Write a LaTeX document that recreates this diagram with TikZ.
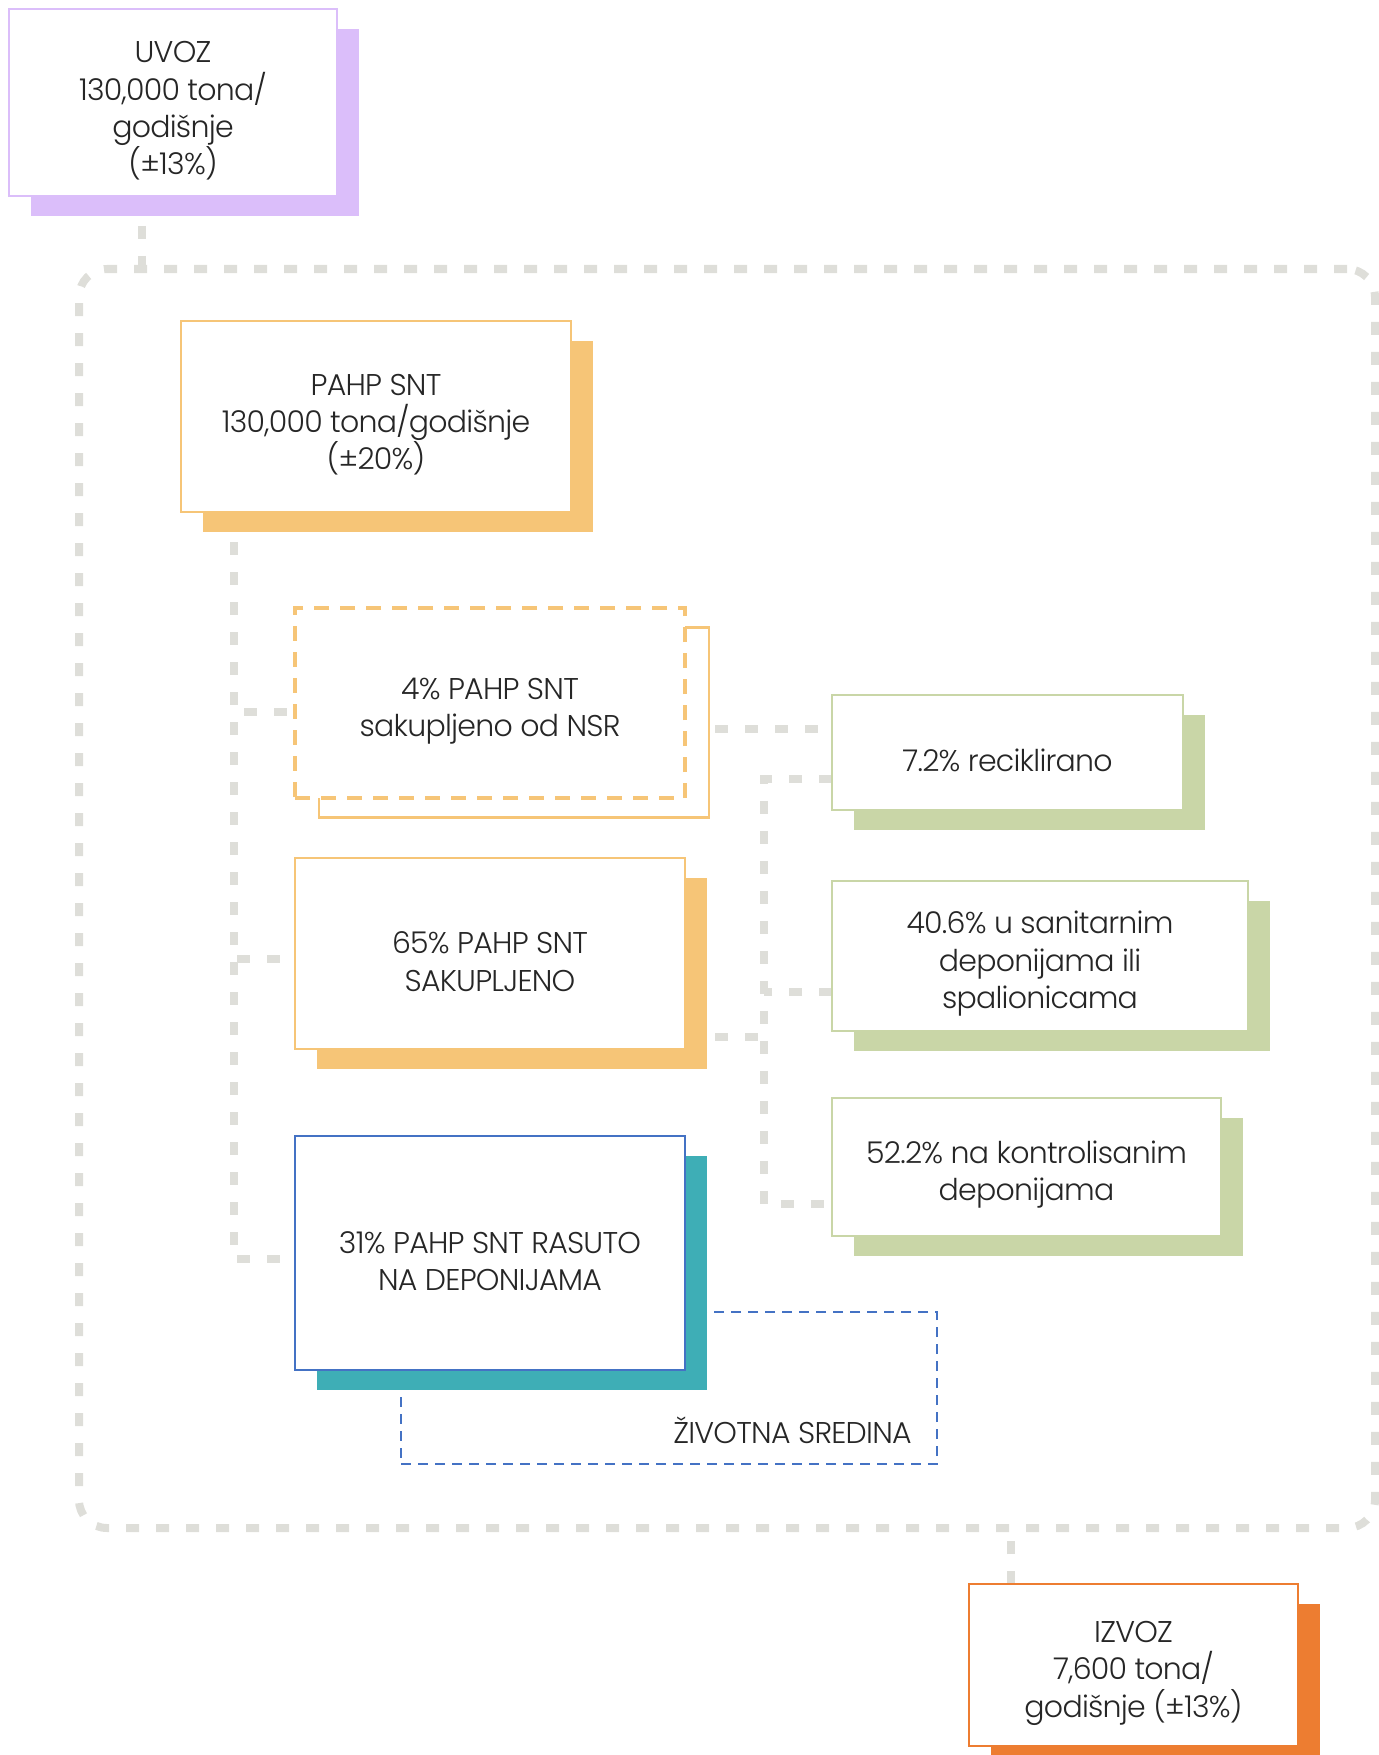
\documentclass[tikz,border=0pt]{standalone}
\usepackage{fontspec}
\setmainfont{Poppins Light}[LetterSpace=-2.5]
\usetikzlibrary{positioning,shadows,backgrounds}

\definecolor{lila}{HTML}{DBBEFA}
\definecolor{narandza}{HTML}{F6C577}
\definecolor{zelena}{HTML}{C9D6A7}
\definecolor{tirkiz}{HTML}{3EAEB6}
\definecolor{plava}{HTML}{4472C4}
\definecolor{izvozboja}{HTML}{ED7D31}
\definecolor{siva}{HTML}{DEDED9}
\definecolor{tekst}{HTML}{262626}

\newcommand\tekstfont{\fontsize{15}{18.6}\selectfont}
% podupirac prvog reda, spusta tekst u okviru
\newcommand\gornji{\rule{0pt}{19pt}}

\tikzset{
  okvir/.style={draw, fill=white, line width=1.3pt, inner sep=0pt, outer sep=0pt,
    align=center, text=tekst, font=\tekstfont},
  sjena/.style={general shadow={fill=#1, shadow xshift=11pt, shadow yshift=-10pt}},
  veza/.style={draw=siva, line width=4pt, dash pattern=on 6.5pt off 8.5pt},
}

\begin{document}
\begin{tikzpicture}[x=0.5pt,y=-0.5pt]
\useasboundingbox (0,0) rectangle (1379,1755);

% granica sistema
\node[draw=siva, line width=4pt, dash pattern=on 6.5pt off 8.5pt, rounded corners=14pt,
  minimum width=648pt, minimum height=629.5pt, inner sep=0pt] (sistem) at (727,898.5) {};

% ulaz i izlaz
\node[okvir, draw=lila, sjena=lila, minimum width=164pt, minimum height=93.5pt] (uvoz) at (173,102.5)
  {\gornji UVOZ\\130,000 tona/\\godišnje\\(±13\%)};
\node[okvir, draw=izvozboja, sjena=izvozboja, minimum width=164.5pt, minimum height=81pt] (izvoz) at (1133.5,1665)
  {\gornji IZVOZ\\7,600 tona/\\godišnje (±13\%)};

% tokovi PAHP SNT
\node[okvir, draw=narandza, sjena=narandza, minimum width=195pt, minimum height=95.5pt] (pahp) at (376,416.5)
  {\gornji PAHP SNT\\130,000 tona/godišnje\\(±20\%)};
\node[okvir, draw=narandza, line width=2.2pt, dash pattern=on 7.5pt off 5.5pt,
  general shadow={draw=narandza, fill=white, line width=1.2pt, solid, shadow xshift=12pt, shadow yshift=-9.75pt},
  minimum width=195pt, minimum height=95pt] (nsr) at (490,703)
  {\gornji 4\% PAHP SNT\\sakupljeno od NSR};
\node[okvir, draw=narandza, sjena=narandza, minimum width=195pt, minimum height=95.5pt] (snt65) at (490,953.5)
  {\gornji 65\% PAHP SNT\\SAKUPLJENO};

% zivotna sredina
\node[draw=plava, line width=1pt, dash pattern=on 5pt off 3.5pt, minimum width=268pt,
  minimum height=76pt, inner sep=0pt] (zivot) at (669,1388) {};
\node[anchor=east, text=tekst, font=\tekstfont, inner sep=0pt] (zivotnatpis)
  at ([xshift=-13pt,yshift=17.5pt]zivot.south east) {ŽIVOTNA SREDINA};
\node[okvir, draw=plava, sjena=tirkiz, minimum width=195pt, minimum height=117pt] (rasuto) at (490,1253)
  {\gornji 31\% PAHP SNT RASUTO\\NA DEPONIJAMA};

% sudbina sakupljenog
\node[okvir, draw=zelena, sjena=zelena, minimum width=175.5pt, minimum height=57.5pt] (recikl) at (1007.5,752.5)
  {\gornji 7.2\% reciklirano};
\node[okvir, draw=zelena, sjena=zelena, minimum width=208pt, minimum height=75pt] (sanit) at (1040,956)
  {\gornji 40.6\% u sanitarnim\\deponijama ili\\spalionicama};
\node[okvir, draw=zelena, sjena=zelena, minimum width=194.5pt, minimum height=69pt] (kontr) at (1026.5,1167)
  {\gornji 52.2\% na kontrolisanim\\deponijama};

\begin{scope}[on background layer]
\draw[veza] ([xshift=-15.5pt]uvoz.south) -- ([xshift=-15.5pt]uvoz.south |- sistem.north);
\draw[veza] ([xshift=-61.25pt]izvoz.north) -- ([xshift=-61.25pt]izvoz.north |- sistem.south);
\draw[veza] ([xshift=-71pt]pahp.south) |- ([yshift=-4.5pt]nsr.west);
\draw[veza] ([xshift=-71pt]pahp.south) |- ([yshift=-2.75pt]snt65.west);
\draw[veza] ([xshift=-71pt]pahp.south) |- ([yshift=-3pt]rasuto.west);
\draw[veza] ([yshift=-13pt]nsr.east) -- ([yshift=-13pt]nsr.east -| recikl.west);
\draw[veza] ([yshift=-13pt]recikl.west) -| ([xshift=-34pt,yshift=-18.5pt]kontr.west) -- ([yshift=-18.5pt]kontr.west);
\draw[veza] ([yshift=-18pt]sanit.west) -- ++(-34pt,0);
\draw[veza] ([yshift=-41.75pt]snt65.east) -- ++(39.5pt,0);
\end{scope}

\end{tikzpicture}
\end{document}
